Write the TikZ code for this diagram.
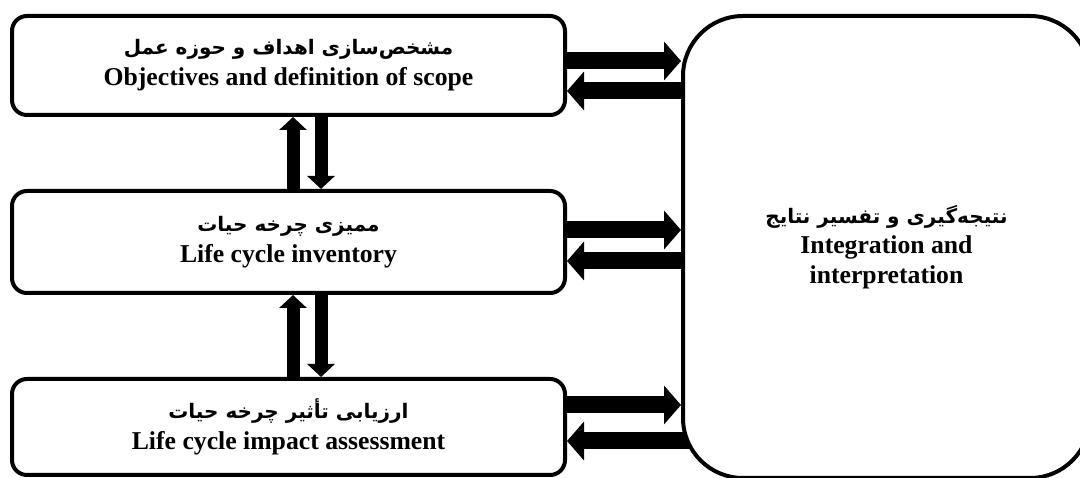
\documentclass[tikz,border=0pt]{standalone}
\usepackage{fontspec}
\setmainfont{Liberation Serif}
\newfontfamily\fa[Script=Arabic]{DejaVu Sans}
\TeXXeTstate=1
\usetikzlibrary{arrows.meta,backgrounds}
\newcommand{\fatext}[1]{{\fa\bfseries\fontsize{20}{24}\selectfont\beginR #1\endR}}
\begin{document}
\begin{tikzpicture}[x=1pt,y=-1pt,
  box/.style={draw,line width=4pt,rounded corners=15pt,fill=white,align=center,
    font=\fontsize{25.7}{31}\selectfont\bfseries,inner sep=0pt,
    minimum width=553pt},
  bigbox/.style={draw,line width=4pt,rounded corners=60pt,fill=white,align=center,
    font=\fontsize{25.7}{30}\selectfont\bfseries,inner sep=0pt,
    minimum width=407pt,minimum height=462pt},
  harr/.style={line width=17pt,-{Triangle[width=38pt,length=17pt]}},
  varr/.style={line width=13pt,-{Triangle[width=27pt,length=13pt]}}]
\useasboundingbox (0,0) rectangle (1080,478);
\clip (0,0) rectangle (1080,478);

\node[box,minimum height=99pt] (obj) at (288.5,65.5)
  {\fatext{مشخص‌سازی اهداف و حوزه عمل}\\ Objectives and definition of scope};
\node[box,minimum height=102pt] (inv) at (288.5,242)
  {\fatext{ممیزی چرخه حیات}\\ Life cycle inventory};
\node[box,minimum height=96pt] (imp) at (288.5,427)
  {\fatext{ارزیابی تأثیر چرخه حیات}\\ Life cycle impact assessment};
\node[bigbox] (int) at (886.5,247)
  {\fatext{نتیجه‌گیری و تفسیر نتایج}\\ Integration and\\ interpretation};

\begin{scope}[on background layer]
  \draw[harr] (obj.east |- 0,61) -- (int.west |- 0,61);
  \draw[harr] (int.center |- 0,91) -- (obj.east |- 0,91);
  \draw[harr] (inv.east |- 0,230) -- (int.west |- 0,230);
  \draw[harr] (int.center |- 0,261) -- (inv.east |- 0,261);
  \draw[harr] (imp.east |- 0,405) -- (int.west |- 0,405);
  \draw[harr] (int.center |- 0,441) -- (imp.east |- 0,441);
\end{scope}

\draw[varr] (inv.north -| 293,0) -- (obj.south -| 293,0);
\draw[varr] (obj.south -| 321,0) -- (inv.north -| 321,0);
\draw[varr] (imp.north -| 293,0) -- (inv.south -| 293,0);
\draw[varr] (inv.south -| 321,0) -- (imp.north -| 321,0);
\end{tikzpicture}
\end{document}
